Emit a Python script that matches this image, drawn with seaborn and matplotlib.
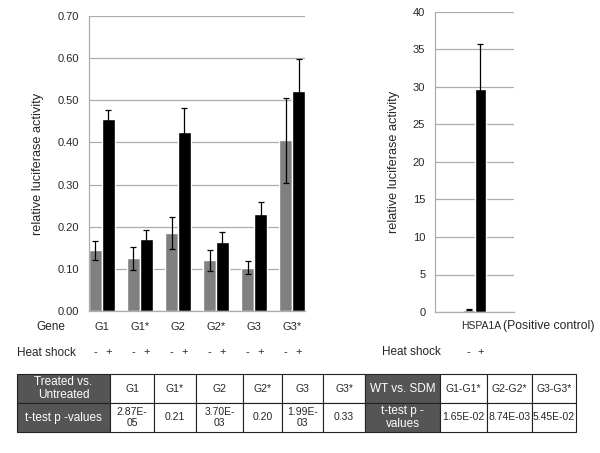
import numpy as np
import pandas as pd
import seaborn as sns
import matplotlib.pyplot as plt
import matplotlib.transforms as mtransforms

# values
genes = ["G1", "G1*", "G2", "G2*", "G3", "G3*"]
untreated = [0.144, 0.125, 0.184, 0.120, 0.103, 0.405]
untreated_err = [0.022, 0.028, 0.038, 0.024, 0.015, 0.101]
heat = [0.456, 0.170, 0.424, 0.164, 0.231, 0.521]
heat_err = [0.021, 0.023, 0.057, 0.024, 0.027, 0.077]

ctrl_vals = [0.3, 29.7]
ctrl_err = [0.05, 6.0]

table_head = ["Treated vs.\nUntreated", "G1", "G1*", "G2", "G2*", "G3", "G3*",
              "WT vs. SDM", "G1-G1*", "G2-G2*", "G3-G3*"]
table_vals = ["t-test p -values", "2.87E-\n05", "0.21", "3.70E-\n03", "0.20", "1.99E-\n03", "0.33",
              "t-test p -\nvalues", "1.65E-02", "8.74E-03", "5.45E-02"]
col_px = [93, 44, 42, 47, 39, 41, 42, 75, 47, 45, 44]

sns.set_style("white")
plt.rcParams['font.family'] = ['Liberation Sans', 'DejaVu Sans']

grid_c = "#adadad"
pal = ["#808080", "#000000"]

fig = plt.figure(figsize=(6, 4.53), dpi=100)

# ---- left chart
df = pd.DataFrame({
    "gene": genes * 2,
    "val": untreated + heat,
    "hs": ["-"] * 6 + ["+"] * 6,
})
ax = fig.add_axes([89 / 600, 142 / 453, 216 / 600, 295 / 453])
sns.barplot(data=df, x="gene", y="val", hue="hs", hue_order=["-", "+"], palette=pal,
            width=0.68, gap=0, errorbar=None, legend=False, saturation=1, ax=ax)
for cont, errs in zip(ax.containers, [untreated_err, heat_err]):
    xs = [b.get_x() + b.get_width() / 2 for b in cont]
    ys = [b.get_height() for b in cont]
    ax.errorbar(xs, ys, yerr=errs, fmt="none", ecolor="black", elinewidth=0.9,
                capsize=2.5, capthick=0.9)
ax.set_xlim(-0.34, 5.34)
ax.set_ylim(0, 0.70)
ax.set_yticks(np.arange(0, 0.71, 0.1))
ax.set_yticklabels([f"{v:.2f}" for v in np.arange(0, 0.71, 0.1)], fontsize=8)
ax.yaxis.grid(True, color=grid_c, lw=0.9)
ax.set_axisbelow(True)
ax.set_xticks([])
ax.set_xlabel("")
ax.set_ylabel("relative luciferase activity", fontsize=9.2, labelpad=10)
for s in ["top", "right"]:
    ax.spines[s].set_visible(False)
for s in ["left", "bottom"]:
    ax.spines[s].set_color(grid_c)
    ax.spines[s].set_linewidth(0.9)
ax.tick_params(axis="y", length=3, color=grid_c, pad=4)

tr = mtransforms.blended_transform_factory(ax.transData, fig.transFigure)
fig.text(36 / 600, 1 - 327 / 453, "Gene", fontsize=8.5, va="center", ha="left")
fig.text(17 / 600, 1 - 353 / 453, "Heat shock", fontsize=8.5, va="center", ha="left")
for i, g in enumerate(genes):
    ax.text(i, 1 - 327 / 453, g, transform=tr, fontsize=8, ha="center", va="center")
for cont, sign in zip(ax.containers, ["-", "+"]):
    for b in cont:
        ax.text(b.get_x() + b.get_width() / 2, 1 - 352 / 453, sign, transform=tr,
                fontsize=8, ha="center", va="center")

# ---- right chart (positive control)
df2 = pd.DataFrame({"gene": ["HSPA1A", "HSPA1A"], "val": ctrl_vals, "hs": ["-", "+"]})
ax2 = fig.add_axes([435 / 600, 141 / 453, 79 / 600, 300 / 453])
sns.barplot(data=df2, x="gene", y="val", hue="hs", hue_order=["-", "+"], palette=pal,
            width=0.8, gap=0, errorbar=None, legend=False, saturation=1, ax=ax2)
for cont, errs in zip(ax2.containers, ctrl_err):
    xs = [b.get_x() + b.get_width() / 2 for b in cont]
    ys = [b.get_height() for b in cont]
    ax2.errorbar(xs, ys, yerr=errs, fmt="none", ecolor="black", elinewidth=0.9,
                 capsize=2.5, capthick=0.9)
ax2.set_xlim(-1.374, 1.374)
ax2.set_ylim(0, 40)
ax2.set_yticks(range(0, 41, 5))
ax2.tick_params(axis="y", labelsize=8, length=3, color=grid_c, pad=4)
ax2.yaxis.grid(True, color=grid_c, lw=0.9)
ax2.set_axisbelow(True)
ax2.set_xticks([])
ax2.set_xlabel("")
ax2.set_ylabel("relative luciferase activity", fontsize=9.2, labelpad=9)
for s in ["top", "right"]:
    ax2.spines[s].set_visible(False)
for s in ["left", "bottom"]:
    ax2.spines[s].set_color(grid_c)
    ax2.spines[s].set_linewidth(0.9)

fig.text(461 / 600, 1 - 326 / 453, "HSPA1A", fontsize=7.5, va="center", ha="left")
fig.text(503 / 600, 1 - 326 / 453, "(Positive control)", fontsize=8.8, va="center", ha="left")
fig.text(382 / 600, 1 - 352 / 453, "Heat shock", fontsize=8.5, va="center", ha="left")
tr2 = mtransforms.blended_transform_factory(ax2.transData, fig.transFigure)
for cont, sign in zip(ax2.containers, ["-", "+"]):
    for b in cont:
        ax2.text(b.get_x() + b.get_width() / 2, 1 - 352 / 453, sign, transform=tr2,
                 fontsize=8, ha="center", va="center")

# ---- table of p-values
tax = fig.add_axes([17 / 600, 21 / 453, 559 / 600, 58 / 453])
tax.axis("off")
widths = [w / sum(col_px) for w in col_px]
tbl = tax.table(cellText=[table_head, table_vals], colWidths=widths, bbox=[0, 0, 1, 1],
                cellLoc="center")
tbl.auto_set_font_size(False)
dark = {(0, 0), (1, 0), (0, 7), (1, 7)}
for (r, c), cell in tbl.get_celld().items():
    cell.set_edgecolor("#222222")
    cell.set_linewidth(0.8)
    if (r, c) in dark:
        cell.set_facecolor("#555555")
        cell.get_text().set_color("white")
        cell.get_text().set_fontsize(8.5)
    else:
        cell.set_facecolor("white")
        cell.get_text().set_fontsize(7.5)

fig.savefig("out.png", dpi=100)
